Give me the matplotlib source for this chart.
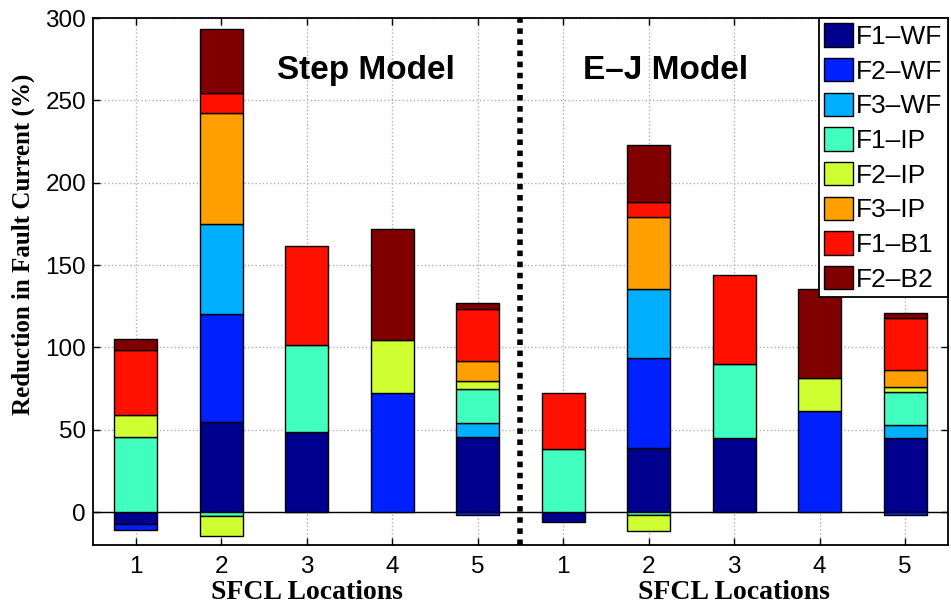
import matplotlib
matplotlib.use('Agg')
import matplotlib.pyplot as plt
from matplotlib.patches import Patch
import numpy as np

#----------------------------------------------------------------------------- data
# positions 1-5 = Step Model, 6-10 = E-J Model
loc_labels = ['1', '2', '3', '4', '5', '1', '2', '3', '4', '5']
series_names = ['F1\u2013WF', 'F2\u2013WF', 'F3\u2013WF', 'F1\u2013IP',
                'F2\u2013IP', 'F3\u2013IP', 'F1\u2013B1', 'F2\u2013B2']

F1_WF = [-7.0, 54.5, 48.6, 0.0, 45.7, -6.0, 38.7, 44.7, 0.0, 44.9]
F2_WF = [-4.0, 65.5, 0.0, 72.1, -1.8, 0.0, 55.0, 0.0, 61.3, -1.5]
F3_WF = [0.0, 54.7, 0.0, 0.0, 8.2, 0.0, 41.5, 0.0, 0.0, 7.7]
F1_IP = [45.7, -2.5, 52.6, 0.0, 20.6, 38.1, -1.8, 45.2, 0.0, 20.1]
F2_IP = [13.0, -12.0, 0.0, 32.2, 4.9, 0.0, -9.7, 0.0, 20.1, 3.4]
F3_IP = [0.0, 67.8, 0.0, 0.0, 12.1, 0.0, 44.0, 0.0, 0.0, 9.9]
F1_B1 = [39.7, 12.1, 60.5, 0.0, 31.8, 34.4, 9.4, 54.0, 0.0, 31.6]
F2_B2 = [7.0, 38.7, 0.0, 67.4, 3.4, 0.0, 34.2, 0.0, 53.8, 3.2]

colors = ['#00008F', '#0020FF', '#00AFFF', '#40FFBF',
          '#CFFF30', '#FF9F00', '#FF1000', '#800000']

#----------------------------------------------------------------------------- figure
fig = plt.figure(figsize=(9.51, 6.03), dpi=100)
ax = fig.add_axes([0.0978, 0.0962, 0.899, 0.8738])

x = np.arange(1, 11)
pos_bottom = np.zeros(10)
neg_bottom = np.zeros(10)
all_series = [F1_WF, F2_WF, F3_WF, F1_IP, F2_IP, F3_IP, F1_B1, F2_B2]
for vals, col in zip(all_series, colors):
    vals = np.array(vals)
    for i in range(10):
        v = vals[i]
        if v > 0:
            ax.bar(x[i], v, 0.5, bottom=pos_bottom[i], color=col,
                   edgecolor='black', linewidth=1, zorder=3)
            pos_bottom[i] += v
        elif v < 0:
            ax.bar(x[i], v, 0.5, bottom=neg_bottom[i], color=col,
                   edgecolor='black', linewidth=1, zorder=3)
            neg_bottom[i] += v

ax.axhline(0, color='black', linewidth=1, zorder=2)
ax.axvline(5.5, color='black', linestyle=(0, (1, 1)), linewidth=4, zorder=4)

ax.set_xlim(0.5, 10.5)
ax.set_ylim(-20, 300)
ax.set_xticks(x)
ax.set_xticklabels(loc_labels)
ax.set_yticks(np.arange(0, 301, 50))
ax.grid(True, color='#b0b0b0', linestyle=':', linewidth=1, zorder=0)
ax.set_axisbelow(True)
ax.tick_params(direction='in', top=True, right=True, length=5, width=1,
               labelsize=17.5)
ax.tick_params(axis='x', pad=8)
ax.tick_params(axis='y', pad=5)
for lab in ax.get_xticklabels() + ax.get_yticklabels():
    lab.set_family('Liberation Sans')
for sp in ax.spines.values():
    sp.set_linewidth(1.3)

# model titles
ax.text(3.69, 268, 'Step Model', fontsize=24, fontweight='bold',
        family='Liberation Sans', ha='center', va='center', zorder=5)
ax.text(7.2, 268, 'E\u2013J Model', fontsize=24, fontweight='bold',
        family='Liberation Sans', ha='center', va='center', zorder=5)

# axis labels
ax.text(3, -52.5, 'SFCL Locations', fontsize=20, fontweight='bold',
        family='Liberation Serif', ha='center', va='baseline', clip_on=False)
ax.text(8, -52.5, 'SFCL Locations', fontsize=20, fontweight='bold',
        family='Liberation Serif', ha='center', va='baseline', clip_on=False)
fig.text(0.025, 0.595, 'Reduction in Fault Current (%)', fontsize=18,
         fontweight='bold', family='Liberation Serif', rotation=90,
         ha='center', va='center')

handles = [Patch(facecolor=c, edgecolor='black', linewidth=1) for c in colors]
leg = ax.legend(handles, series_names, loc='upper right',
                prop={'family': 'Liberation Sans', 'size': 19},
                frameon=True, fancybox=False, framealpha=1, edgecolor='black',
                handlelength=1.1, handleheight=0.98, handletextpad=0.12,
                labelspacing=0.34, borderpad=0.2, borderaxespad=0.0)
leg.get_frame().set_linewidth(1.3)
leg.set_zorder(6)

fig.savefig('out.png', dpi=100)
